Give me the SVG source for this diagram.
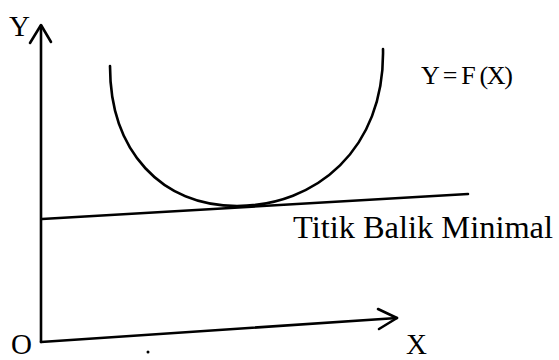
<svg xmlns="http://www.w3.org/2000/svg" width="559" height="360" viewBox="0 0 559 360">
  <style>
    .ln { fill: none; stroke: #000; stroke-width: 2.6; stroke-linecap: round; stroke-linejoin: round; }
    .t { font-family: "Liberation Serif", "Times New Roman", serif; fill: #000; }
  </style>
  <rect width="559" height="360" fill="#fff"/>
  <g id="connectors">
    <path id="y-axis" class="ln" d="M41,342 L41,26"/>
    <path id="y-arrow" class="ln" d="M30,43 L41,25 L51,42"/>
    <path id="x-axis" class="ln" d="M41,342 L397,318"/>
    <path id="x-arrow" class="ln" d="M378,309 L397,318 L379,329"/>
    <path id="tangent" class="ln" d="M42,219 L468,194"/>
  </g>
  <g id="curve">
    <path class="ln" d="M110,66 C110,152 162,206 237,206 C315,206 385,150 383,49"/>
  </g>
  <g id="labels">
    <text class="t" x="9" y="36" font-size="30" textLength="21" lengthAdjust="spacingAndGlyphs">Y</text>
    <text class="t" x="11" y="354" font-size="29">O</text>
    <text class="t" x="406" y="354" font-size="29">X</text>
    <text class="t" x="421" y="84" font-size="26" textLength="92" lengthAdjust="spacing">Y = F (X)</text>
    <text class="t" x="293" y="238" font-size="32" textLength="260" lengthAdjust="spacingAndGlyphs">Titik Balik Minimal</text>
    <circle cx="148" cy="352" r="1.5" fill="#000"/>
  </g>
</svg>
